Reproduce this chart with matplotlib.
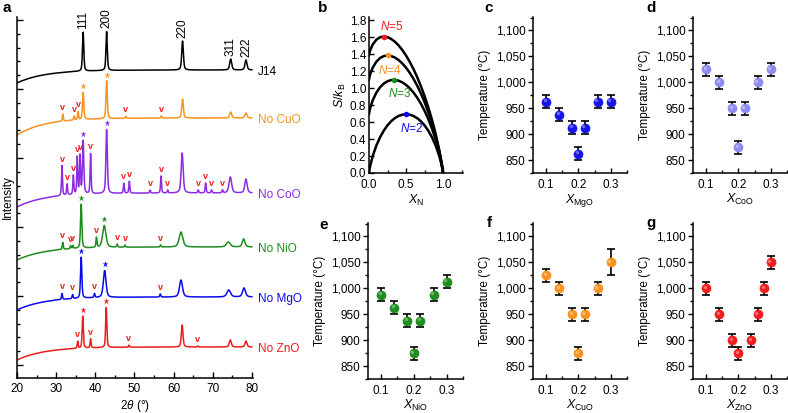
import numpy as np
import matplotlib
matplotlib.use('Agg')
import matplotlib.pyplot as plt
import matplotlib.transforms as mtrans
from matplotlib.ticker import MultipleLocator, FormatStrFormatter, NullFormatter

plt.rcParams['font.family'] = ['Liberation Sans', 'DejaVu Sans']
plt.rcParams['font.size'] = 8.5
plt.rcParams['mathtext.fontset'] = 'custom'
plt.rcParams['mathtext.rm'] = 'Liberation Sans'
plt.rcParams['mathtext.it'] = 'Liberation Sans:italic'
plt.rcParams['axes.linewidth'] = 1.1

# ---------------- Panel a data (XRD) ----------------
samples = ['J14', 'No CuO', 'No CoO', 'No NiO', 'No MgO', 'No ZnO']
sample_colors = ['#000000', '#f7931e', '#8b2be2', '#1e8c1e', '#0a0aee', '#ee1c1c']
hkl_labels = ['111', '200', '220', '311', '222']

main_pos = [
    [36.9, 42.9, 62.3, 74.6, 78.5],
    [36.9, 42.9, 62.3, 74.6, 78.5],
    [36.9, 42.9, 62.2, 74.5, 78.5],
    [36.4, 42.3, 61.9, 74.0, 77.9],
    [36.4, 42.4, 61.9, 74.1, 78.0],
    [36.8, 42.8, 62.2, 74.5, 78.5],
]
main_h = [
    [39, 39, 29, 11, 10],
    [27, 38, 19, 6, 5],
    [53, 64, 40, 16, 14],
    [44, 22, 15, 5, 8],
    [41, 27, 17, 7, 9],
    [32, 40, 22, 7, 6],
]
main_w = [
    [0.2, 0.2, 0.25, 0.3, 0.3],
    [0.2, 0.2, 0.25, 0.3, 0.3],
    [0.2, 0.22, 0.3, 0.4, 0.35],
    [0.2, 0.5, 0.55, 0.6, 0.4],
    [0.2, 0.4, 0.45, 0.55, 0.45],
    [0.18, 0.18, 0.25, 0.3, 0.3],
]
imp_pos = [
    [],
    [31.7, 34.6, 35.6, 47.8, 56.9],
    [31.5, 32.8, 34.4, 35.4, 36.1, 38.8, 47.3, 48.7, 54.0, 56.8, 58.5, 66.3, 68.2, 69.7, 72.5],
    [31.7, 33.7, 34.3, 40.3, 45.6, 47.6, 56.7],
    [31.5, 34.2, 39.8, 56.6],
    [35.5, 38.8, 48.6, 66.2],
]
imp_h = [
    [],
    [7, 4, 8, 2, 2],
    [30, 11, 19, 37, 38, 40, 10, 12, 3, 17, 3, 3, 10, 3, 3],
    [7, 3, 3, 10, 3, 2, 2],
    [6, 4, 4, 3],
    [7, 9, 2, 1],
]
base_right = [308, 260, 185, 131, 81, 31]
base_left_drop = [13, 17, 14, 13, 13, 13]

# ---------------- Panel b data (entropy curves) ----------------
xn = [0.0, 0.005, 0.01, 0.02, 0.05, 0.1, 0.15, 0.2, 0.25, 0.3, 0.35, 0.4, 0.45, 0.5,
      0.55, 0.6, 0.65, 0.7, 0.75, 0.8, 0.85, 0.9, 0.95, 0.98, 0.99, 0.995, 1.0]
s_n2 = [0.0, 0.0315, 0.0560, 0.0980, 0.1985, 0.3251, 0.4227, 0.5004, 0.5623, 0.6109, 0.6474,
        0.6730, 0.6881, 0.6931, 0.6881, 0.6730, 0.6474, 0.6109, 0.5623, 0.5004, 0.4227,
        0.3251, 0.1985, 0.0980, 0.0560, 0.0315, 0.0]
s_n3 = [0.6931, 0.7212, 0.7422, 0.7773, 0.8570, 0.9489, 1.0119, 1.0549, 1.0822, 1.0961,
        1.0980, 1.0889, 1.0694, 1.0397, 1.0001, 0.9503, 0.8901, 0.8188, 0.7356, 0.6390,
        0.5267, 0.3944, 0.2332, 0.1119, 0.0629, 0.0350, 0.0]
s_n4 = [1.0986, 1.1246, 1.1436, 1.1747, 1.2422, 1.3138, 1.3565, 1.3793, 1.3863, 1.3799,
        1.3616, 1.3322, 1.2924, 1.2425, 1.1825, 1.1125, 1.0320, 0.9405, 0.8370, 0.7201,
        0.5875, 0.4349, 0.2535, 0.1200, 0.0670, 0.0370, 0.0]
s_n5 = [1.3863, 1.4108, 1.4284, 1.4566, 1.5155, 1.5728, 1.6011, 1.6094, 1.6021, 1.5813,
        1.5485, 1.5048, 1.4506, 1.3863, 1.3120, 1.2275, 1.1327, 1.0268, 0.9089, 0.7777,
        0.6307, 0.4637, 0.2678, 0.1258, 0.0699, 0.0384, 0.0]
n_labels = ['N=5', 'N=4', 'N=3', 'N=2']
n_peak_x = [0.2, 0.25, 1 / 3, 0.5]
n_peak_y = [1.609, 1.386, 1.099, 0.693]
n_colors = ['#ee1c1c', '#f7931e', '#1e8c1e', '#0a0aee']

# ---------------- Panels c-g data ----------------
x_common = [0.10, 0.14, 0.18, 0.20, 0.22, 0.26, 0.30]
t_mgo = [962.5, 937.5, 912.5, 862.5, 912.5, 962.5, 962.5]
e_mgo = [12.5, 12.5, 12.5, 12.5, 12.5, 12.5, 12.5]
t_coo = [1025, 1000, 950, 875, 950, 1000, 1025]
e_coo = [12.5, 12.5, 12.5, 12.5, 12.5, 12.5, 12.5]
t_nio = [987.5, 962.5, 937.5, 875, 937.5, 987.5, 1012.5]
e_nio = [12.5, 12.5, 12.5, 12.5, 12.5, 12.5, 12.5]
t_cuo = [1025, 1000, 950, 875, 950, 1000, 1050]
e_cuo = [12.5, 12.5, 12.5, 12.5, 12.5, 12.5, 25]
x_zno = [0.10, 0.14, 0.18, 0.20, 0.24, 0.26, 0.28, 0.30]
t_zno = [1000, 950, 900, 875, 900, 950, 1000, 1050]
e_zno = [12.5, 12.5, 12.5, 12.5, 12.5, 12.5, 12.5, 12.5]

fig = plt.figure(figsize=(7.88, 4.13), dpi=100)
W, H = 788, 413


def add_ax(l, t, r, b):
    ax = fig.add_axes([l / W, 1 - b / H, (r - l) / W, (b - t) / H])
    ax.spines['top'].set_visible(False)
    ax.spines['right'].set_visible(False)
    return ax


def panel_letter(x, y, s):
    fig.text(x / W, 1 - y / H, s, fontsize=11, fontweight='bold', va='center', ha='center')


# ---------------- Panel a ----------------
axa = add_ax(17, 17, 253, 378)
tt = np.linspace(20, 80, 2400)


def pv(x, c, w):
    lor = 1.0 / (1.0 + ((x - c) / w) ** 2)
    gau = np.exp(-np.log(2) * ((x - c) / w) ** 2)
    return 0.5 * lor + 0.5 * gau


for i, name in enumerate(samples):
    def profile(x):
        y = base_right[i] - base_left_drop[i] * np.exp(-(x - 20) / 7.0)
        for c, h, w in zip(main_pos[i], main_h[i], main_w[i]):
            y = y + h * pv(x, c, w)
        for c, h in zip(imp_pos[i], imp_h[i]):
            y = y + h * pv(x, c, 0.15)
        return y
    axa.plot(tt, profile(tt), color=sample_colors[i], lw=1.1)
    axa.text(81.5, base_right[i] - 2, name, color=sample_colors[i], fontsize=8.5,
             va='center', ha='left', clip_on=False)
    if i == 0:
        for c, lab in zip(main_pos[i], hkl_labels):
            axa.text(c, float(profile(np.array([c]))[0]) + 3, lab, rotation=90,
                     ha='center', va='bottom', fontsize=8.5, clip_on=False)
    else:
        for c in main_pos[i][:2]:
            axa.plot([c], [float(profile(np.array([c]))[0]) + 6], marker='*', ms=4.5,
                     color=sample_colors[i], mec='none', clip_on=False)
        for c in imp_pos[i]:
            axa.text(c, float(profile(np.array([c]))[0]) + 2, 'v', color='#ee1c1c',
                     fontsize=6.5, fontweight='bold', ha='center', va='bottom')

axa.set_xlim(20, 80.3)
axa.set_ylim(0, 361)
axa.xaxis.set_major_locator(MultipleLocator(10))
axa.xaxis.set_minor_locator(MultipleLocator(5))
axa.yaxis.set_major_locator(MultipleLocator(69, offset=13))
axa.yaxis.set_minor_locator(MultipleLocator(13.8, offset=13))
axa.yaxis.set_major_formatter(NullFormatter())
axa.tick_params(which='both', direction='in', width=1.0)
axa.tick_params(which='major', length=4)
axa.tick_params(which='minor', length=2.5)
axa.set_xlabel(r'2$\it{\theta}$ (°)', fontsize=8.5, labelpad=2)
axa.set_ylabel('Intensity', fontsize=8.5)
axa.yaxis.set_label_coords(-0.012, 0.5)
panel_letter(7, 8, 'a')

# ---------------- Panel b ----------------
axb = add_ax(369, 17, 463, 173)
for ys in [s_n5, s_n4, s_n3, s_n2]:
    axb.plot(xn, ys, color='black', lw=1.8, solid_capstyle='round')
for lab, px, py, col, off in zip(n_labels, n_peak_x, n_peak_y, n_colors,
                                 [(6, 7), (2, -11), (4, -10), (4, -10)]):
    axb.plot([px], [py], 'o', color=col, ms=4, mec='none', zorder=5)
    axb.annotate(r'$N$=' + lab.split('=')[1], (px, py), xytext=off, textcoords='offset points',
                 color=col, fontsize=8.5, ha='center', va='center')
axb.set_xlim(0, 1.27)
axb.set_ylim(0, 1.84)
axb.xaxis.set_major_locator(MultipleLocator(0.5))
axb.xaxis.set_minor_locator(MultipleLocator(0.25))
axb.yaxis.set_major_locator(MultipleLocator(0.2))
axb.xaxis.set_major_formatter(FormatStrFormatter('%.1f'))
axb.yaxis.set_major_formatter(FormatStrFormatter('%.1f'))
axb.tick_params(which='both', direction='in', width=1.0)
axb.tick_params(axis='x', pad=4)
axb.tick_params(axis='y', pad=2)
axb.tick_params(which='major', length=3.5)
axb.tick_params(which='minor', length=2.5)
axb.set_xlabel(r'$X_{\mathrm{N}}$', fontsize=9, labelpad=2)
axb.set_ylabel(r'$S/k_{\mathrm{B}}$', fontsize=9, labelpad=1)
panel_letter(323, 8, 'b')


# ---------------- Panels c-g ----------------
def temp_panel(box, xs, ts, es, color, sub, letter, lpos):
    ax = add_ax(*box)
    ax.errorbar(xs, ts, yerr=es, fmt='none', ecolor='black', elinewidth=1.2,
                capsize=3, capthick=1.2, zorder=2)
    ax.plot(xs, ts, 'o', color=color, ms=6.5, mec=color, mew=0.5, zorder=3)
    hl = mtrans.offset_copy(ax.transData, fig=fig, x=-1.0, y=1.0, units='points')
    ax.plot(xs, ts, 'o', color='white', alpha=0.35, ms=2.5, mec='none', zorder=4,
            transform=hl)
    ax.set_xlim(0.06, 0.35)
    ax.set_ylim(825, 1126)
    ax.xaxis.set_major_locator(MultipleLocator(0.1))
    ax.xaxis.set_minor_locator(MultipleLocator(0.05))
    ax.xaxis.set_major_formatter(FormatStrFormatter('%.1f'))
    ax.yaxis.set_major_locator(MultipleLocator(50))
    ax.yaxis.set_minor_locator(MultipleLocator(25))
    ax.yaxis.set_major_formatter(plt.FuncFormatter(lambda v, p: f'{int(round(v)):,}'))
    ax.tick_params(axis='x', which='both', direction='in', width=1.0, pad=4)
    ax.tick_params(axis='y', which='both', direction='out', width=1.0, pad=2)
    ax.tick_params(which='major', length=3.5)
    ax.tick_params(which='minor', length=2.5)
    ax.set_ylabel('Temperature (°C)', fontsize=8.5, labelpad=3)
    ax.set_xlabel(r'$X_{\mathrm{' + sub + '}}$', fontsize=9, labelpad=1)
    panel_letter(lpos[0], lpos[1], letter)
    return ax


temp_panel((533, 17, 627, 173), x_common, t_mgo, e_mgo, '#1515e6', 'MgO', 'c', (489, 8))
temp_panel((693, 17, 787, 173), x_common, t_coo, e_coo, '#8c8cf0', 'CoO', 'd', (651, 8))
temp_panel((368, 223, 463, 379), x_common, t_nio, e_nio, '#1e8c1e', 'NiO', 'e', (324, 225))
temp_panel((533, 223, 627, 379), x_common, t_cuo, e_cuo, '#f7931e', 'CuO', 'f', (489, 223))
temp_panel((693, 223, 787, 379), x_zno, t_zno, e_zno, '#ee1c1c', 'ZnO', 'g', (651, 223))

fig.savefig('out.png', dpi=100)
